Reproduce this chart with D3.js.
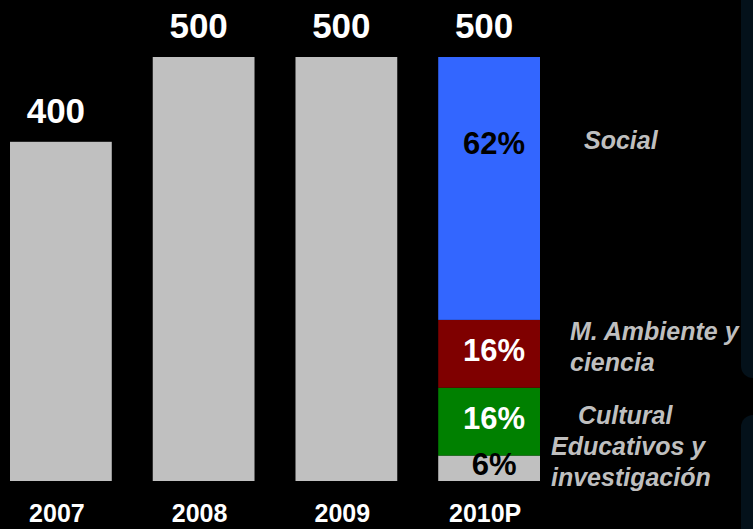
<!DOCTYPE html>
<html>
<head>
<meta charset="utf-8">
<script src="https://cdn.jsdelivr.net/npm/d3@7"></script>
<style>
  html, body { margin: 0; padding: 0; background: #000; }
  svg { display: block; }
  text { font-family: "Liberation Sans", Arial, Helvetica, sans-serif; font-weight: bold; }
</style>
</head>
<body>
<script>
// Annual totals per year (2010 is a projection)
const years = ["2007", "2008", "2009", "2010P"];
const totals = [400, 500, 500, 500];

// Breakdown of the 2010P total, bottom to top
const segmentNames = ["Educativos y\ninvestigación", "Cultural", "M. Ambiente y\nciencia", "Social"];
const segmentShares = [6, 16, 16, 62];
const segmentColors = ["#c0c0c0", "#008000", "#7f0000", "#3366ff"];
const segmentLabelColors = ["#000", "#fff", "#fff", "#000"];

const W = 753, H = 529;
const svg = d3.select("body").append("svg").attr("width", W).attr("height", H);

svg.append("rect").attr("width", W).attr("height", H).attr("fill", "#000");

// faint slide panels at the right edge
svg.append("rect").attr("x", 741).attr("y", -20).attr("width", 40).attr("height", 398)
  .attr("rx", 12).attr("fill", "#04111a");
svg.append("rect").attr("x", 741).attr("y", 415).attr("width", 40).attr("height", 140)
  .attr("rx", 12).attr("fill", "#04111a");

const x = d3.scaleBand().domain(years).range([10, 540]).paddingInner(0.287).paddingOuter(0);
const y = d3.scaleLinear().domain([0, 500]).range([481, 57]);

const data = years.map((yr, i) => ({ year: yr, total: totals[i] }));
const stackedYear = years[years.length - 1];

// plain grey bars
svg.append("g").selectAll("rect")
  .data(data.filter(d => d.year !== stackedYear))
  .join("rect")
  .attr("x", d => x(d.year))
  .attr("y", d => y(d.total))
  .attr("width", x.bandwidth())
  .attr("height", d => y(0) - y(d.total))
  .attr("fill", "#c0c0c0");

// stacked bar for the projected year
const stackedTotal = totals[years.indexOf(stackedYear)];
let acc = 0;
const segs = segmentShares.map((s, i) => {
  const v0 = acc, v1 = acc + stackedTotal * s / 100;
  acc = v1;
  return { name: segmentNames[i], share: s, v0, v1, color: segmentColors[i], lc: segmentLabelColors[i] };
});

svg.append("g").selectAll("rect")
  .data(segs)
  .join("rect")
  .attr("x", x(stackedYear))
  .attr("y", d => y(d.v1))
  .attr("width", x.bandwidth())
  .attr("height", d => y(d.v0) - y(d.v1))
  .attr("fill", d => d.color);

// anchor of each segment's labels: its middle, but never too far below its top
const anchor = d => Math.min((y(d.v1) + y(d.v0)) / 2, y(d.v1) + 90);

svg.append("g").selectAll("text")
  .data(segs)
  .join("text")
  .attr("x", x(stackedYear) + x.bandwidth() / 2 + 5)
  .attr("y", d => anchor(d) + 7)
  .attr("text-anchor", "middle")
  .attr("font-size", 31)
  .attr("fill", d => d.lc)
  .text(d => d.share + "%");

// category names beside the stacked bar
const legend = svg.append("g").selectAll("text")
  .data(segs)
  .join("text")
  .attr("font-size", 25)
  .attr("font-style", "italic")
  .attr("fill", "#bfbfbf")
  .attr("x", (d, i) => [551, 578, 570, 584][i])
  .attr("y", d => {
    const n = d.name.split("\n").length;
    return anchor(d) + 2 - (n - 1) * 15.5;
  });
legend.selectAll("tspan")
  .data(d => d.name.split("\n"))
  .join("tspan")
  .attr("x", function () { return d3.select(this.parentNode).attr("x"); })
  .attr("dy", (d, i) => i === 0 ? 0 : 31)
  .text(d => d);

// totals above bars
svg.append("g").selectAll("text")
  .data(data)
  .join("text")
  .attr("x", d => x(d.year) + x.bandwidth() / 2 - 5)
  .attr("y", d => y(d.total) - 19)
  .attr("text-anchor", "middle")
  .attr("font-size", 35)
  .attr("fill", "#fff")
  .text(d => d.total);

// year axis
const axis = svg.append("g")
  .attr("transform", `translate(0,${y(0)})`)
  .call(d3.axisBottom(x).tickSize(0).tickPadding(0));
axis.select(".domain").remove();
axis.selectAll("text")
  .attr("y", 41)
  .attr("dy", 0)
  .attr("font-size", 25)
  .attr("font-family", "'Liberation Sans', Arial, sans-serif")
  .attr("font-weight", "bold")
  .attr("fill", "#fff")
  .attr("dx", -4);
</script>
</body>
</html>
